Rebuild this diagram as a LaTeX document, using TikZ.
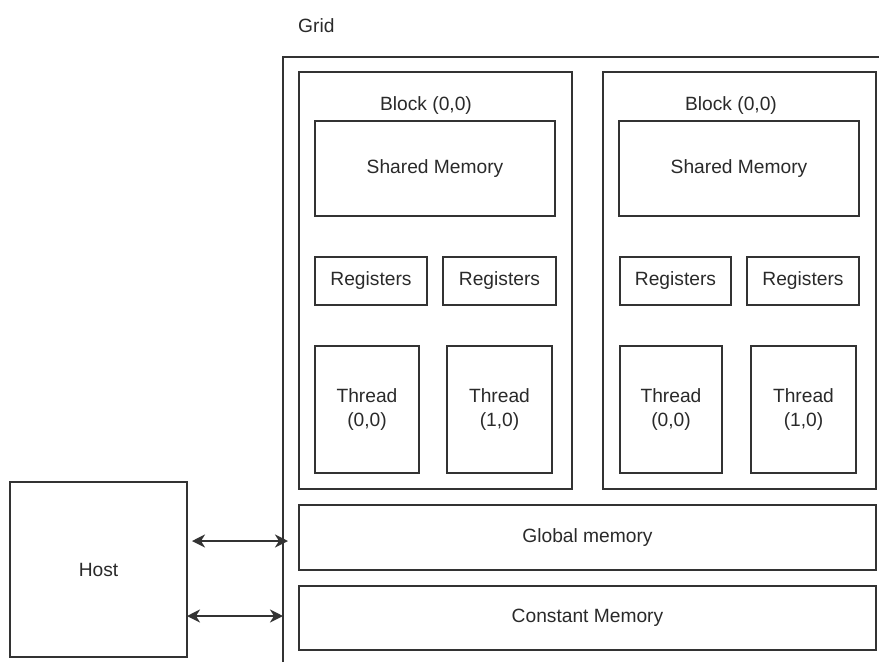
\documentclass[tikz,border=0pt]{standalone}
\usepackage{fontspec}
\setmainfont{Liberation Sans}
\usetikzlibrary{arrows.meta}
\definecolor{ln}{HTML}{333333}
\definecolor{tx}{HTML}{2A2A2A}
\begin{document}
\begin{tikzpicture}[x=1pt,y=-1pt,
  box/.style={draw=ln, line width=2pt, inner sep=0pt, align=center, text=tx,
    font=\fontsize{19.2}{23.5}\selectfont},
  lbl/.style={inner sep=0pt, text=tx, font=\fontsize{19.2}{23.5}\selectfont},
  link/.style={draw=ln, line width=2pt, {Stealth[length=13pt,width=13pt,inset=4pt]}-{Stealth[length=13pt,width=13pt,inset=4pt]}}]
\useasboundingbox (0,0) rectangle (879,662);
\fill[white] (0,0) rectangle (879,662);
% grid (cropped)
\draw[ln, line width=2pt] (283,662) -- (283,56.5) -- (879,56.5);
\node[lbl, anchor=west] (grid) at (298,26) {Grid};
% blocks
\node[box, minimum width=273pt, minimum height=417pt] (b1) at (435.5,280.5) {};
\node[box, minimum width=273pt, minimum height=417pt] (b2) at (739.5,280.5) {};
\node[lbl] (b1l) at (426,106) {Block (0,0)};
\node[lbl] (b2l) at (731,106) {Block (0,0)};
% shared memory
\node[box, minimum width=240pt, minimum height=95pt] (s1) at (435,168.5) {Shared Memory};
\node[box, minimum width=240pt, minimum height=95pt] (s2) at (739,168.5) {Shared Memory};
% registers
\node[box, minimum width=112pt, minimum height=48pt] (r1) at (371,281) {Registers};
\node[box, minimum width=113pt, minimum height=48pt] (r2) at (499.5,281) {Registers};
\node[box, minimum width=111pt, minimum height=48pt] (r3) at (675.5,281) {Registers};
\node[box, minimum width=112pt, minimum height=48pt] (r4) at (803,281) {Registers};
% threads
\node[box, minimum width=104pt, minimum height=127pt] (t1) at (367,409.5) {Thread\\(0,0)};
\node[box, minimum width=105pt, minimum height=127pt] (t2) at (499.5,409.5) {Thread\\(1,0)};
\node[box, minimum width=102pt, minimum height=127pt] (t3) at (671,409.5) {Thread\\(0,0)};
\node[box, minimum width=105pt, minimum height=127pt] (t4) at (803.5,409.5) {Thread\\(1,0)};
% memories
\node[box, minimum width=577pt, minimum height=65pt] (gm) at (587.5,537.5) {Global memory};
\node[box, minimum width=577pt, minimum height=64pt] (cm) at (587.5,618) {Constant Memory};
% host
\node[box, minimum width=177pt, minimum height=175pt] (host) at (98.5,569.5) {Host};
% arrows
\coordinate (h1) at (192,541);
\coordinate (g1) at (288,541);
\coordinate (h2) at (187,616);
\coordinate (g2) at (283,616);
\draw[link] (h1) -- (g1);
\draw[link] (h2) -- (g2);
\end{tikzpicture}
\end{document}
